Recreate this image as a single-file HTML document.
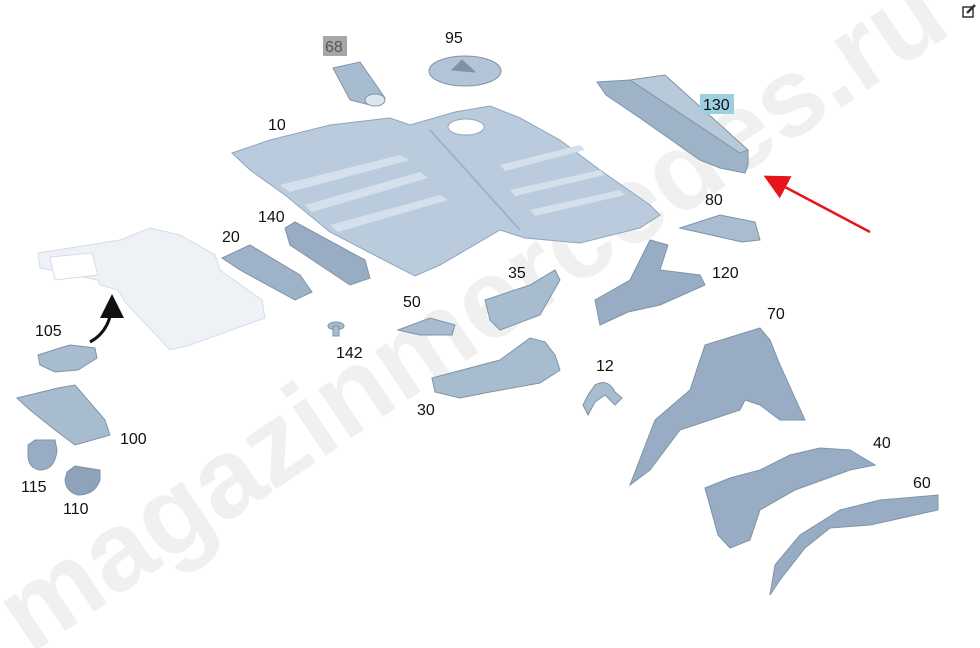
<!DOCTYPE html>
<html><head><meta charset="utf-8"><style>
html,body{margin:0;padding:0;background:#fff;width:980px;height:648px;overflow:hidden}
svg{display:block}
text{font-family:"Liberation Sans",sans-serif;font-size:16px;fill:#111}
</style></head><body>
<svg width="980" height="648" viewBox="0 0 980 648" xmlns="http://www.w3.org/2000/svg">
<defs>
<marker id="ar" markerWidth="10" markerHeight="10" refX="8" refY="5" orient="auto"><path d="M0,0 L10,5 L0,10 z" fill="#e8141b"/></marker>
<marker id="ab" markerWidth="8" markerHeight="8" refX="6" refY="4" orient="auto"><path d="M0,0 L8,4 L0,8 z" fill="#111"/></marker>
</defs>
<!-- watermark -->
<text x="0" y="0" transform="translate(30,655) rotate(-34)" style="font-size:112px;font-weight:bold;fill:#f0f0f0">magazinmercedes.ru</text>

<!-- ghost floor (left) -->
<g fill="#eef2f7" stroke="#d5dde8" stroke-width="1">
<polygon points="38,253 120,240 150,228 180,235 215,255 220,270 262,300 265,318 190,345 170,350 125,302 118,290 100,285 98,280 40,268"/>
<polygon points="50,257 92,253 98,275 55,280" fill="#fff"/>
</g>
<!-- main floor 10 -->
<g stroke="#8fa5bc" stroke-width="1">
<polygon points="232,153 270,140 330,125 390,118 410,125 455,112 490,106 520,118 560,140 600,170 650,205 660,215 640,228 580,243 525,238 500,230 440,265 415,276 380,258 330,232 285,195 250,170" fill="#b9cbdd"/>
<ellipse cx="466" cy="127" rx="18" ry="8" fill="#fff"/>
<g fill="#d4e0ec" stroke="none">
<polygon points="280,185 400,155 410,160 290,192"/>
<polygon points="305,205 420,172 428,178 312,212"/>
<polygon points="330,225 440,195 448,200 338,232"/>
<polygon points="500,165 580,145 585,150 505,171"/>
<polygon points="510,190 600,170 605,175 515,196"/>
<polygon points="530,210 620,190 625,195 535,216"/>
</g>
<line x1="430" y1="130" x2="520" y2="230" stroke="#9fb3c8" stroke-width="2"/>
</g>
<!-- 68 -->
<g fill="#a8bcd0" stroke="#7f93a8"><polygon points="333,68 360,62 385,98 370,105 350,100"/><ellipse cx="375" cy="100" rx="10" ry="6" fill="#dde6ef"/></g>
<!-- 95 -->
<g fill="#b2c4d6" stroke="#7f93a8"><ellipse cx="465" cy="71" rx="36" ry="15"/><polygon points="452,70 462,60 475,72" fill="#7f93a8"/></g>
<!-- 130 -->
<g stroke="#7f93a8"><polygon points="597,82 630,80 665,90 748,150 748,165 745,173 720,168 700,160 640,118 606,95" fill="#9fb3c8"/><polygon points="630,80 665,75 748,150 740,153" fill="#b8c9da"/></g>
<!-- 80 -->
<polygon points="680,228 720,215 755,222 760,240 742,242" fill="#a9bcd0" stroke="#7f93a8"/>
<!-- 20 -->
<polygon points="222,258 250,245 300,275 312,292 295,300 240,270" fill="#9fb3c8" stroke="#7f93a8"/>
<!-- 140 -->
<polygon points="285,228 295,222 365,260 370,278 350,285 290,245" fill="#98adc3" stroke="#7f93a8"/>
<!-- 142 -->
<g fill="#a8bcd0" stroke="#7f93a8"><ellipse cx="336" cy="326" rx="8" ry="4"/><rect x="333" y="326" width="6" height="10"/></g>
<!-- 50 -->
<polygon points="398,330 430,318 455,325 452,335 420,335" fill="#a8bcd0" stroke="#7f93a8"/>
<!-- 35 -->
<polygon points="485,300 530,285 555,270 560,280 540,315 500,330 490,320" fill="#a8bcd0" stroke="#7f93a8"/>
<!-- 120 -->
<polygon points="595,300 630,280 650,240 668,245 660,270 700,275 705,285 660,305 628,312 600,325" fill="#98adc3" stroke="#7f93a8"/>
<!-- 30 -->
<polygon points="432,378 500,360 530,338 545,342 555,355 560,370 540,383 490,392 460,398 435,392" fill="#a8bcd0" stroke="#7f93a8"/>
<!-- 12 -->
<path d="M583,405 L588,395 L595,385 Q608,378 615,392 L622,398 L615,405 L605,395 L595,402 L588,415 Z" fill="#a8bcd0" stroke="#7f93a8"/>
<!-- 70 -->
<polygon points="705,345 760,328 770,340 780,365 805,420 780,420 760,405 745,400 740,410 710,420 680,430 650,470 630,485 655,420 690,390" fill="#98adc3" stroke="#7f93a8"/>
<!-- 40 -->
<polygon points="705,488 730,478 760,470 790,455 820,448 850,450 875,465 850,470 795,490 760,510 750,540 730,548 718,535" fill="#98adc3" stroke="#7f93a8"/>
<!-- 60 -->
<polygon points="770,595 775,565 800,535 840,510 880,500 938,495 938,510 870,525 830,528 805,548 780,580" fill="#98adc3" stroke="#7f93a8"/>
<!-- 105 -->
<polygon points="38,355 60,348 70,345 95,348 97,358 78,370 55,372 40,365" fill="#a8bcd0" stroke="#7f93a8"/>
<!-- 100 -->
<polygon points="17,398 58,388 75,385 105,420 110,435 75,445 55,430 30,410" fill="#a8bcd0" stroke="#7f93a8"/>
<!-- 115 -->
<path d="M28,445 L35,440 L55,440 L57,450 Q55,470 40,470 Q28,468 28,455 Z" fill="#98adc3" stroke="#7f93a8"/>
<!-- 110 -->
<path d="M67,472 L75,466 L100,470 L100,480 Q95,495 78,495 Q66,492 65,480 Z" fill="#8ea3ba" stroke="#7f93a8"/>
<!-- arrows -->
<path d="M90,342 Q112,330 112,300" fill="none" stroke="#111" stroke-width="3" marker-end="url(#ab)"/>
<line x1="870" y1="232" x2="768" y2="178" stroke="#e8141b" stroke-width="2.5" marker-end="url(#ar)"/>
<!-- labels -->
<rect x="323" y="36" width="24" height="20" fill="#a7a7a7"/>
<text x="325" y="52" style="fill:#555">68</text>
<rect x="700" y="94" width="34" height="20" fill="#9ccfe0"/>
<text x="703" y="110">130</text>
<text x="445" y="43">95</text>
<text x="268" y="130">10</text>
<text x="705" y="205">80</text>
<text x="258" y="222">140</text>
<text x="222" y="242">20</text>
<text x="508" y="278">35</text>
<text x="712" y="278">120</text>
<text x="403" y="307">50</text>
<text x="336" y="358">142</text>
<text x="767" y="319">70</text>
<text x="596" y="371">12</text>
<text x="417" y="415">30</text>
<text x="35" y="336">105</text>
<text x="120" y="444">100</text>
<text x="21" y="492">115</text>
<text x="63" y="514">110</text>
<text x="873" y="448">40</text>
<text x="913" y="488">60</text>
<!-- edit icon -->
<g transform="translate(962,4)" fill="none" stroke="#333" stroke-width="1.5"><rect x="1" y="3" width="10" height="10"/><path d="M5,9 L13,1" stroke-width="2.5"/></g>
</svg>
</body></html>
